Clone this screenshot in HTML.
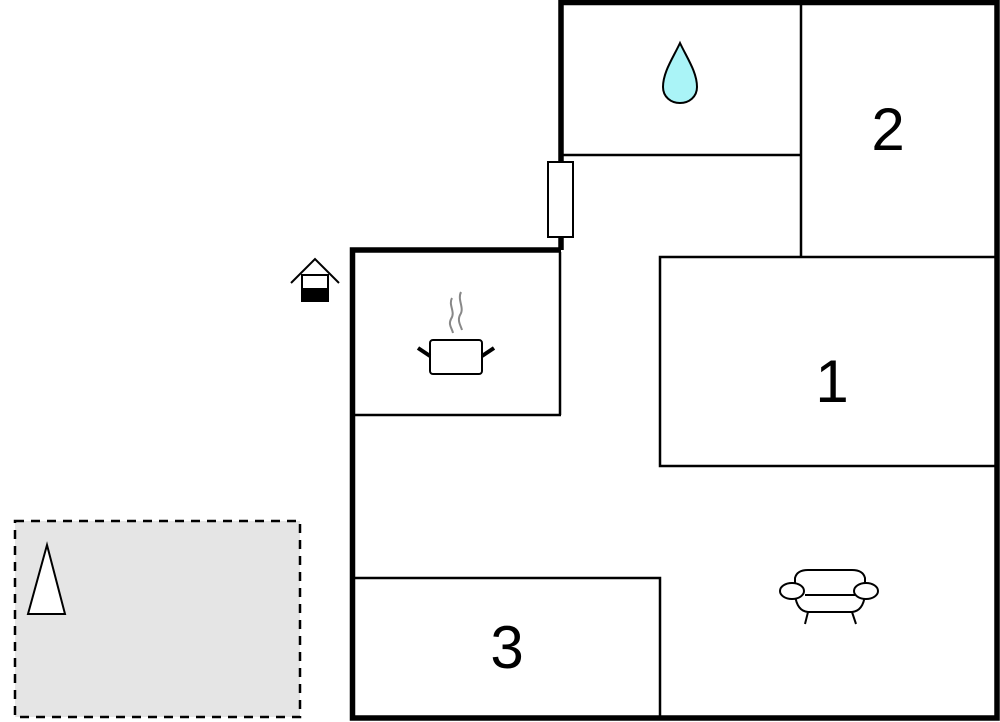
<!DOCTYPE html>
<html><head><style>html,body{margin:0;padding:0;background:#fff;}svg{display:block}</style></head>
<body>
<svg width="1000" height="722" viewBox="0 0 1000 722" xmlns="http://www.w3.org/2000/svg" font-family="Liberation Sans, sans-serif">
<!-- terrace -->
<rect x="15" y="521" width="285" height="196" fill="#e5e5e5" stroke="#000" stroke-width="2.5" stroke-dasharray="9,7"/>
<polygon points="47,545 28,614 65,614" fill="#fff" stroke="#000" stroke-width="2"/>
<!-- thin interior walls -->
<g stroke="#000" stroke-width="2.5" fill="none">
<line x1="561" y1="155" x2="800" y2="155"/>
<line x1="801" y1="3" x2="801" y2="257"/>
<rect x="660" y="257" width="336" height="209"/>
<line x1="560" y1="252" x2="560" y2="415"/>
<line x1="353" y1="415" x2="561" y2="415"/>
<rect x="353" y="578" width="307" height="140"/>
</g>
<!-- thick exterior walls -->
<g stroke="#000" stroke-width="5.5" fill="none">
<polyline points="561,250 561,2.5 997,2.5 997,718 352.5,718 352.5,250 561,250"/>
</g>
<!-- door -->
<rect x="548" y="162" width="25" height="75" fill="#fff" stroke="#000" stroke-width="2"/>
<!-- water drop -->
<path d="M680,43 C687,58 697,72 697,87 C697,97 689,103 680,103 C671,103 663,97 663,87 C663,72 673,58 680,43 Z" fill="#aaf4f7" stroke="#000" stroke-width="2"/>
<!-- numbers -->
<text x="888" y="150" font-size="60" text-anchor="middle">2</text>
<text x="832" y="402" font-size="60" text-anchor="middle">1</text>
<text x="507" y="668" font-size="60" text-anchor="middle">3</text>
<!-- pot -->
<g stroke="#888" stroke-width="2" fill="none">
<path d="M452,298 C448,305 456,312 451,319 C448,325 452,328 453,333"/>
<path d="M461,292 C457,300 465,308 460,315 C457,321 461,326 462,330"/>
</g>
<rect x="430" y="340" width="52" height="34" rx="3" fill="#fff" stroke="#000" stroke-width="2"/>
<line x1="418" y1="348" x2="430" y2="356" stroke="#000" stroke-width="4"/>
<line x1="494" y1="348" x2="482" y2="356" stroke="#000" stroke-width="4"/>
<!-- house icon -->
<polyline points="291,283 315,259 339,283" fill="none" stroke="#000" stroke-width="2"/>
<rect x="302" y="275" width="26" height="26" fill="#fff" stroke="#000" stroke-width="2"/>
<rect x="302" y="288" width="26" height="13" fill="#000"/>
<!-- sofa -->
<g stroke="#000" stroke-width="2" fill="#fff">
<path d="M795,590 L795,578 Q797,570 808,570 L852,570 Q863,570 865,578 L865,590"/>
<path d="M795,595 Q797,611 808,612 L852,612 Q863,611 865,595"/>
<line x1="805" y1="595" x2="855" y2="595"/>
<ellipse cx="792" cy="591" rx="12" ry="8"/>
<ellipse cx="866" cy="591" rx="12" ry="8"/>
<line x1="808" y1="612" x2="805" y2="624"/>
<line x1="852" y1="612" x2="856" y2="624"/>
</g>
</svg>
</body></html>
